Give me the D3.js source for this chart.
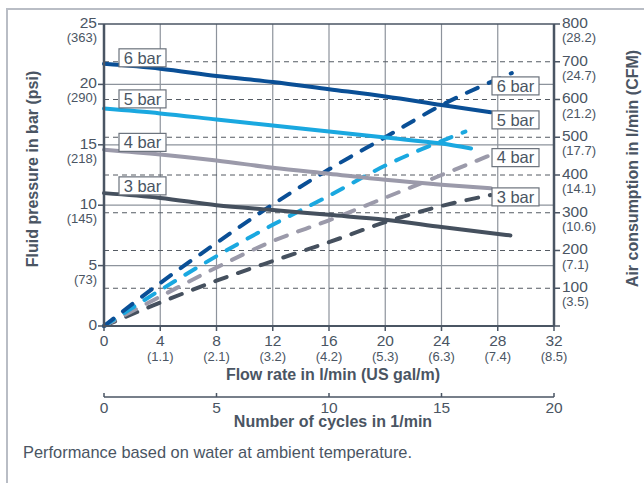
<!DOCTYPE html>
<html>
<head>
<meta charset="utf-8">
<script src="https://cdn.jsdelivr.net/npm/d3@7"></script>
<style>
  body { margin: 0; background: #fff; }
  svg { display: block; font-family: "Liberation Sans", Arial, sans-serif; }
</style>
</head>
<body>
<script>
// flow rate in l/min (bottom axis)
const flowTicks = [0, 4, 8, 12, 16, 20, 24, 28, 32];
const flowGal = ['', '(1.1)', '(2.1)', '(3.2)', '(4.2)', '(5.3)', '(6.3)', '(7.4)', '(8.5)'];
const cycleTicks = [0, 5, 10, 15, 20];

// left axis: bar (psi)
const barTicks = [0, 5, 10, 15, 20, 25];
const psiLabels = ['', '(73)', '(145)', '(218)', '(290)', '(363)'];

// right axis: l/min (CFM)
const airTicks = [100, 200, 300, 400, 500, 600, 700, 800];
const cfmLabels = ['(3.5)', '(7.1)', '(10.6)', '(14.1)', '(17.7)', '(21.2)', '(24.7)', '(28.2)'];

// fluid pressure curves (bar) vs flow
const pressure6Flow = [0, 4, 8, 12, 16, 20, 24, 27.5];
const pressure6 = [21.7, 21.3, 20.7, 20.2, 19.6, 19.0, 18.3, 17.7];
const pressure5Flow = [0, 4, 8, 12, 16, 20, 24, 26.1];
const pressure5 = [18.0, 17.6, 17.1, 16.6, 16.1, 15.6, 15.1, 14.7];
const pressure4Flow = [0, 4, 8, 12, 16, 20, 24, 27.5];
const pressure4 = [14.6, 14.2, 13.7, 13.1, 12.6, 12.1, 11.7, 11.4];
const pressure3Flow = [0, 4, 8, 12, 16, 20, 24, 28.9];
const pressure3 = [11.0, 10.6, 10.0, 9.6, 9.2, 8.8, 8.2, 7.5];

// air consumption curves (l/min) vs flow
const air6Flow = [0, 4, 8, 12, 16, 20, 24, 29];
const air6 = [0, 114, 220, 322, 415, 500, 585, 670];
const air5Flow = [0, 4, 8, 12, 16, 20, 24, 25.7];
const air5 = [0, 95, 185, 268, 345, 425, 490, 515];
const air4Flow = [0, 4, 8, 12, 16, 20, 24, 27.5];
const air4 = [0, 78, 155, 225, 280, 340, 400, 453];
const air3Flow = [0, 4, 8, 12, 16, 20, 24, 27.5];
const air3 = [0, 62, 120, 172, 222, 275, 318, 347];

const seriesNames = ['6 bar', '5 bar', '4 bar', '3 bar'];
const seriesColors = ['#0a4f96', '#1aa8e0', '#9b9aaa', '#45505e'];
// label anchors: left boxes in bar, right boxes in l/min
const leftLabelBar = [22.2, 18.8, 15.2, 11.6];
const rightLabelAir = [636, 546, 446, 342];

const pressureSets = [
  [pressure6Flow, pressure6], [pressure5Flow, pressure5],
  [pressure4Flow, pressure4], [pressure3Flow, pressure3]
];
const airSets = [
  [air6Flow, air6], [air5Flow, air5], [air4Flow, air4], [air3Flow, air3]
];

const W = 644, H = 483;
const ink = '#4a5563';
const svg = d3.select('body').append('svg').attr('width', W).attr('height', H);

// outer frame
svg.append('path')
  .attr('d', 'M7,' + (H + 5) + ' V9 H' + (W + 5))
  .attr('fill', 'none').attr('stroke', '#b9bdc5').attr('stroke-width', 2);

const x = d3.scaleLinear().domain([0, 32]).range([104, 554]);
const xc = d3.scaleLinear().domain([0, 20]).range([104, 554]);
const yL = d3.scaleLinear().domain([0, 25]).range([326, 24]);
const yR = d3.scaleLinear().domain([0, 800]).range([326, 24]);

// grid
const grid = svg.append('g');
grid.selectAll('line.v').data(flowTicks.filter(d => d > 0 && d < 32)).enter().append('line')
  .attr('x1', d => x(d)).attr('x2', d => x(d)).attr('y1', yL(25)).attr('y2', yL(0))
  .attr('stroke', '#8d939c').attr('stroke-width', 1.2);
grid.selectAll('line.h').data(barTicks.filter(d => d > 0 && d < 25)).enter().append('line')
  .attr('x1', x(0)).attr('x2', x(32)).attr('y1', d => yL(d)).attr('y2', d => yL(d))
  .attr('stroke', '#8d939c').attr('stroke-width', 1.2);
grid.selectAll('line.d').data(airTicks.filter(d => d < 800)).enter().append('line')
  .attr('x1', x(0)).attr('x2', x(32)).attr('y1', d => yR(d)).attr('y2', d => yR(d))
  .attr('stroke', '#555b63').attr('stroke-width', 1).attr('stroke-dasharray', '5,4');
grid.append('line')
  .attr('x1', x(0)).attr('x2', x(32)).attr('y1', yL(25)).attr('y2', yL(25))
  .attr('stroke', ink).attr('stroke-width', 1.5);

// curves
const line = d3.line().x(d => x(d[0])).curve(d3.curveMonotoneX);
const toPts = s => s[0].map((f, i) => [f, s[1][i]]);

svg.append('g').selectAll('path').data(airSets.slice().reverse()).enter().append('path')
  .attr('d', s => line.y(d => yR(d[1]))(toPts(s)))
  .attr('fill', 'none')
  .attr('stroke', (s, i) => seriesColors[3 - i])
  .attr('stroke-width', 4)
  .attr('stroke-linecap', 'round')
  .attr('stroke-dasharray', '12,12');

svg.append('g').selectAll('path').data(pressureSets).enter().append('path')
  .attr('d', s => line.y(d => yL(d[1]))(toPts(s)))
  .attr('fill', 'none')
  .attr('stroke', (s, i) => seriesColors[i])
  .attr('stroke-width', 4)
  .attr('stroke-linecap', 'round');

// axes lines
svg.append('line').attr('x1', x(0)).attr('x2', x(0)).attr('y1', yL(25)).attr('y2', yL(0))
  .attr('stroke', ink).attr('stroke-width', 2.5);
svg.append('line').attr('x1', x(32)).attr('x2', x(32)).attr('y1', yL(25)).attr('y2', yL(0))
  .attr('stroke', ink).attr('stroke-width', 2.5);
svg.append('line').attr('x1', x(0)).attr('x2', x(32)).attr('y1', yL(0)).attr('y2', yL(0))
  .attr('stroke', ink).attr('stroke-width', 2);

// left ticks
const left = svg.append('g').attr('fill', ink);
barTicks.forEach((v, i) => {
  left.append('line').attr('x1', x(0) - 6).attr('x2', x(0)).attr('y1', yL(v)).attr('y2', yL(v))
    .attr('stroke', ink).attr('stroke-width', 1.5);
  left.append('text').attr('x', 97).attr('y', yL(v) - 1.5).attr('dy', '0.35em')
    .attr('text-anchor', 'end').attr('font-size', 15.5).text(v);
  if (psiLabels[i]) {
    left.append('text').attr('x', 97).attr('y', yL(v) + 13.5).attr('dy', '0.35em')
      .attr('text-anchor', 'end').attr('font-size', 13).text(psiLabels[i]);
  }
});

// right ticks
const right = svg.append('g').attr('fill', ink);
[0].concat(airTicks).forEach(v => {
  right.append('line').attr('x1', x(32)).attr('x2', x(32) + 6).attr('y1', yR(v)).attr('y2', yR(v))
    .attr('stroke', ink).attr('stroke-width', 1.5);
});
airTicks.forEach((v, i) => {
  right.append('text').attr('x', 562).attr('y', yR(v) - 1.5).attr('dy', '0.35em')
    .attr('font-size', 15.5).text(v);
  right.append('text').attr('x', 562).attr('y', yR(v) + 13.5).attr('dy', '0.35em')
    .attr('font-size', 13).text(cfmLabels[i]);
});

// bottom flow ticks
const bottom = svg.append('g').attr('fill', ink).attr('text-anchor', 'middle');
flowTicks.forEach((v, i) => {
  bottom.append('line').attr('x1', x(v)).attr('x2', x(v)).attr('y1', yL(0)).attr('y2', yL(0) + 5)
    .attr('stroke', ink).attr('stroke-width', 1.5);
  bottom.append('text').attr('x', x(v)).attr('y', 340.5).attr('dy', '0.35em')
    .attr('font-size', 15.5).text(v);
  if (flowGal[i]) {
    bottom.append('text').attr('x', x(v)).attr('y', 356).attr('dy', '0.35em')
      .attr('font-size', 13).text(flowGal[i]);
  }
});
bottom.append('text').attr('x', 333).attr('y', 380)
  .attr('font-size', 16).attr('font-weight', 'bold').text('Flow rate in l/min (US gal/m)');

// cycles axis
const cyc = svg.append('g').attr('fill', ink).attr('text-anchor', 'middle');
cyc.append('line').attr('x1', xc(0)).attr('x2', xc(20)).attr('y1', 397).attr('y2', 397)
  .attr('stroke', ink).attr('stroke-width', 1.5);
cycleTicks.forEach(v => {
  cyc.append('line').attr('x1', xc(v)).attr('x2', xc(v)).attr('y1', 393).attr('y2', 397)
    .attr('stroke', ink).attr('stroke-width', 1.5);
  cyc.append('text').attr('x', xc(v)).attr('y', 407.5).attr('dy', '0.35em')
    .attr('font-size', 15.5).text(v);
});
cyc.append('text').attr('x', 333).attr('y', 426.5)
  .attr('font-size', 16).attr('font-weight', 'bold').text('Number of cycles in 1/min');

// axis titles
svg.append('text').attr('transform', 'translate(32,169) rotate(-90)')
  .attr('text-anchor', 'middle').attr('dy', '0.35em').attr('fill', ink)
  .attr('font-size', 16).attr('font-weight', 'bold').text('Fluid pressure in bar (psi)');
svg.append('text').attr('transform', 'translate(632,168.5) rotate(-90)')
  .attr('text-anchor', 'middle').attr('dy', '0.35em').attr('fill', ink)
  .attr('font-size', 16).attr('font-weight', 'bold').text('Air consumption in l/min (CFM)');

// series label boxes
function labelBox(cx, cy, txt) {
  const g = svg.append('g');
  g.append('rect').attr('x', cx).attr('y', cy - 9).attr('width', 47).attr('height', 18)
    .attr('fill', '#fff').attr('stroke', '#6b727c').attr('stroke-width', 1.2);
  g.append('text').attr('x', cx + 23.5).attr('y', cy).attr('dy', '0.35em')
    .attr('text-anchor', 'middle').attr('font-size', 16.5).attr('fill', ink).text(txt);
}
seriesNames.forEach((n, i) => {
  labelBox(119, yL(leftLabelBar[i]), n);
  labelBox(492, yR(rightLabelAir[i]), n);
});

// footnote
svg.append('text').attr('x', 23).attr('y', 452).attr('dy', '0.35em')
  .attr('font-size', 16.4).attr('fill', ink)
  .text('Performance based on water at ambient temperature.');
</script>
</body>
</html>
